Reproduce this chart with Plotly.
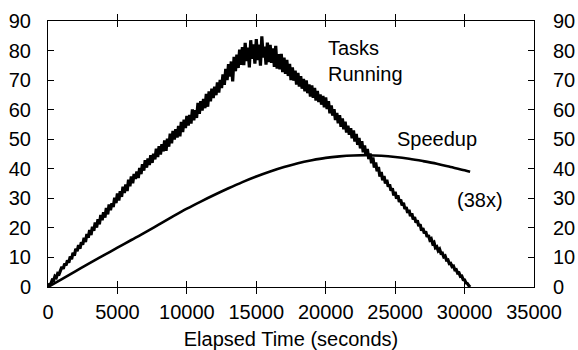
import plotly.graph_objects as go

# Tasks Running (noisy), sampled every 100 s from 0 to 30400
task_times = [i * 100 for i in range(305)]
tasks_running = [
    0, 0.9, 1.0, 2.3, 2.1, 3.6, 3.2, 4.6, 4.4, 5.9,
    6.8, 6.1, 7.9, 7.3, 9.0, 8.2, 10.3, 9.4, 11.6, 10.6,
    12.9, 12.1, 14.2, 13.0, 15.1, 14.3, 16.6, 15.2, 17.9, 16.7,
    19.3, 17.6, 20.4, 19.0, 21.8, 20.1, 22.9, 21.2, 24.4, 22.6,
    25.3, 23.5, 26.7, 24.6, 27.9, 26.0, 28.3, 27.1, 30.2, 28.4,
    31.6, 29.3, 32.4, 30.5, 33.9, 31.8, 34.7, 32.5, 36.3, 34.1,
    37.4, 35.1, 38.2, 36.6, 39.1, 36.9, 40.3, 38.2, 41.5, 39.4,
    42.9, 40.4, 43.5, 41.3, 44.6, 42.0, 45.1, 43.2, 46.8, 44.0,
    47.6, 44.8, 48.3, 45.9, 49.6, 46.1, 50.2, 47.5, 51.9, 48.6,
    52.8, 49.9, 53.4, 50.6, 54.5, 51.0, 55.9, 52.4, 56.6, 53.8,
    57.9, 54.6, 58.2, 55.3, 60.1, 56.4, 59.8, 57.2, 62.3, 58.6,
    62.9, 59.7, 63.6, 60.5, 65.3, 61.0, 66.2, 62.8, 67.1, 63.9,
    67.8, 64.9, 69.2, 65.8, 70.1, 67.3, 71.9, 68.4, 73.8, 70.0,
    75.4, 71.2, 76.3, 69.6, 77.9, 73.0, 78.6, 74.1, 80.3, 75.2,
    81.2, 75.1, 82.6, 76.4, 81.0, 74.3, 83.5, 77.2, 82.1, 75.6,
    83.9, 76.8, 82.0, 74.9, 84.8, 77.6, 81.3, 75.2, 82.7, 76.1,
    81.9, 75.8, 80.7, 74.5, 81.6, 73.9, 78.8, 73.6, 78.9, 72.7,
    77.6, 72.1, 76.8, 71.4, 75.5, 70.0, 74.3, 69.8, 73.2, 68.5,
    72.4, 67.8, 71.3, 67.1, 70.4, 66.2, 69.9, 65.6, 68.5, 64.4,
    68.2, 64.0, 67.4, 63.1, 66.3, 62.6, 65.1, 61.7, 64.6, 60.8,
    64.1, 60.2, 62.9, 58.8, 61.4, 58.0, 60.2, 56.5, 58.9, 55.4,
    58.1, 54.2, 57.0, 53.4, 55.9, 52.3, 54.6, 51.5, 53.7, 50.3,
    53.0, 49.2, 51.8, 48.1, 50.4, 46.9, 49.3, 45.6, 47.9, 44.4,
    46.7, 43.3, 45.2, 41.9, 43.8, 40.4, 42.1, 39.2, 40.6, 37.4,
    38.9, 36.1, 37.5, 35.0, 36.3, 33.9, 34.7, 32.6, 33.4, 31.0,
    32.2, 29.9, 31.0, 28.8, 29.6, 27.6, 28.5, 26.4, 27.0, 25.1,
    26.1, 24.0, 24.9, 22.9, 23.6, 21.8, 22.5, 20.6, 21.2, 19.1,
    19.9, 18.2, 18.8, 17.0, 17.5, 15.9, 16.3, 14.7, 15.1, 13.3,
    13.6, 12.3, 12.8, 11.4, 11.5, 10.2, 10.5, 9.1, 9.2, 7.9,
    8.0, 6.9, 7.1, 5.8, 5.9, 4.7, 4.8, 3.6, 3.7, 2.5,
    2.4, 1.4, 1.2, 0.5, 0,
]

# Speedup (smooth)
speedup_times = [0, 1000, 2000, 3000, 4000, 5000, 6000, 7000, 8000, 9000, 10000,
                 11000, 12000, 13000, 14000, 15000, 16000, 17000, 18000, 19000, 20000,
                 21000, 22000, 23000, 24000, 25000, 26000, 27000, 28000, 29000, 30000, 30400]
speedup = [0, 2.7, 5.4, 8.1, 10.7, 13.3, 15.9, 18.5, 21.2, 23.9, 26.5,
           28.9, 31.2, 33.4, 35.5, 37.4, 39.1, 40.6, 41.9, 42.9, 43.7,
           44.2, 44.5, 44.6, 44.4, 44.0, 43.4, 42.6, 41.7, 40.6, 39.5, 39.0]

x_ticks = [0, 5000, 10000, 15000, 20000, 25000, 30000, 35000]
y_ticks = [0, 10, 20, 30, 40, 50, 60, 70, 80, 90]

FONT = "Liberation Sans, Arial, sans-serif"

fig = go.Figure()
fig.add_trace(go.Scatter(x=task_times, y=tasks_running, mode="lines",
                         line=dict(color="black", width=3.2), showlegend=False))
fig.add_trace(go.Scatter(x=speedup_times, y=speedup, mode="lines", yaxis="y2",
                         line=dict(color="black", width=2.6, shape="spline"), showlegend=False))

fig.add_annotation(x=20050, y=76.3, text="Tasks<br>Running", showarrow=False,
                   xanchor="left", yanchor="middle", align="left",
                   font=dict(family=FONT, size=20, color="black"))
fig.add_annotation(x=24990, y=50.2, text="Speedup", showarrow=False,
                   xanchor="left", yanchor="middle",
                   font=dict(family=FONT, size=20, color="black"))
fig.add_annotation(x=29300, y=29.4, text="(38x)", showarrow=False,
                   xanchor="left", yanchor="middle",
                   font=dict(family=FONT, size=20, color="black"))

axis_font = dict(family=FONT, size=20, color="black")
fig.update_layout(
    width=578, height=350,
    margin=dict(l=48, r=44, t=21, b=63),
    paper_bgcolor="white", plot_bgcolor="white",
    font=axis_font,
    xaxis=dict(range=[0, 35000], tickvals=x_ticks, ticktext=[str(v) for v in x_ticks],
               ticks="inside", ticklen=6, tickcolor="black", showline=True,
               linecolor="black", linewidth=1, mirror="allticks", showgrid=False,
               zeroline=False, tickfont=axis_font, ticklabelstandoff=7, automargin=False,
               title=dict(text="Elapsed Time (seconds)", font=axis_font, standoff=10)),
    yaxis=dict(range=[0, 90], tickvals=y_ticks, ticks="inside", ticklen=6,
               tickcolor="black", showline=True, linecolor="black", linewidth=1,
               mirror="allticks", showgrid=False, zeroline=False, tickfont=axis_font,
               ticklabelstandoff=12, automargin=False),
    yaxis2=dict(range=[0, 90], tickvals=y_ticks, overlaying="y", side="right",
                ticks="", showline=False, showgrid=False, zeroline=False,
                tickfont=axis_font, ticklabelstandoff=18, automargin=False),
)

fig.write_html("out.html")
